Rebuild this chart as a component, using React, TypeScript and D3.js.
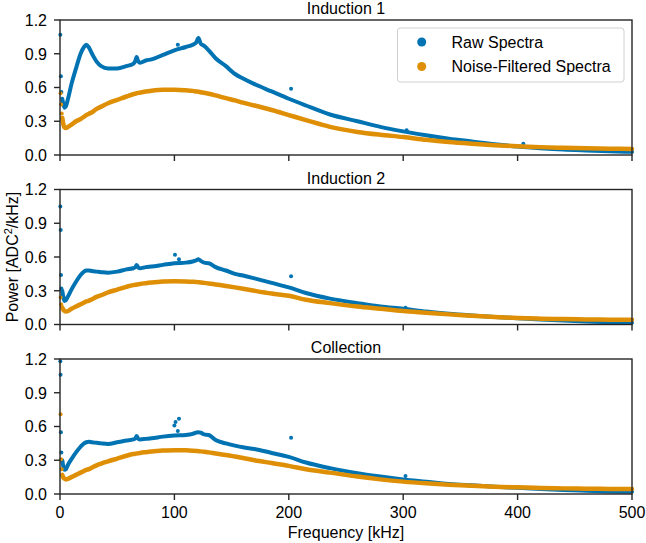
import React from "react";
import * as d3 from "d3";

const freqs = [2, 3, 4, 5, 7, 10, 14, 18, 21, 23, 25, 28, 32, 36, 42, 50, 58, 64, 66, 67, 68.5, 70, 75, 80, 90, 100, 110, 116, 119, 121, 123, 126, 130, 136, 145, 153, 160, 170, 185, 200, 215, 236, 260, 280, 300, 320, 340, 360, 380, 400, 420, 440, 460, 480, 500];

const raw1 = [0.50, 0.45, 0.42, 0.43, 0.50, 0.63, 0.77, 0.90, 0.96, 0.98, 0.96, 0.90, 0.83, 0.79, 0.77, 0.77, 0.79, 0.81, 0.84, 0.87, 0.83, 0.82, 0.84, 0.85, 0.89, 0.93, 0.96, 0.98, 1.00, 1.04, 0.99, 0.97, 0.93, 0.86, 0.79, 0.72, 0.68, 0.63, 0.565, 0.50, 0.44, 0.36, 0.30, 0.25, 0.21, 0.175, 0.145, 0.12, 0.095, 0.075, 0.06, 0.048, 0.04, 0.033, 0.028];
const filt1 = [0.33, 0.27, 0.245, 0.24, 0.25, 0.27, 0.30, 0.32, 0.34, 0.355, 0.365, 0.38, 0.41, 0.43, 0.46, 0.49, 0.52, 0.54, 0.545, 0.55, 0.552, 0.555, 0.565, 0.572, 0.58, 0.58, 0.575, 0.57, 0.565, 0.562, 0.558, 0.553, 0.545, 0.53, 0.505, 0.485, 0.465, 0.44, 0.40, 0.355, 0.31, 0.25, 0.205, 0.18, 0.16, 0.135, 0.115, 0.10, 0.087, 0.077, 0.07, 0.064, 0.059, 0.056, 0.053];

const raw2 = [0.30, 0.24, 0.21, 0.215, 0.25, 0.31, 0.38, 0.44, 0.47, 0.48, 0.48, 0.475, 0.47, 0.465, 0.46, 0.47, 0.49, 0.50, 0.51, 0.53, 0.505, 0.50, 0.51, 0.515, 0.53, 0.545, 0.55, 0.56, 0.57, 0.58, 0.565, 0.55, 0.545, 0.51, 0.48, 0.45, 0.435, 0.41, 0.37, 0.33, 0.28, 0.23, 0.19, 0.16, 0.14, 0.115, 0.095, 0.08, 0.067, 0.056, 0.045, 0.035, 0.027, 0.02, 0.015];
const filt2 = [0.15, 0.13, 0.12, 0.115, 0.12, 0.14, 0.16, 0.18, 0.195, 0.205, 0.21, 0.225, 0.245, 0.26, 0.285, 0.31, 0.335, 0.35, 0.353, 0.355, 0.357, 0.36, 0.367, 0.373, 0.382, 0.385, 0.383, 0.38, 0.378, 0.376, 0.374, 0.37, 0.365, 0.356, 0.343, 0.33, 0.318, 0.30, 0.275, 0.255, 0.22, 0.19, 0.16, 0.14, 0.12, 0.105, 0.09, 0.078, 0.067, 0.058, 0.052, 0.048, 0.045, 0.043, 0.042];

const raw3 = [0.30, 0.24, 0.215, 0.22, 0.26, 0.31, 0.37, 0.42, 0.45, 0.46, 0.465, 0.46, 0.455, 0.45, 0.445, 0.46, 0.475, 0.485, 0.495, 0.515, 0.49, 0.485, 0.49, 0.495, 0.51, 0.52, 0.525, 0.535, 0.545, 0.55, 0.545, 0.53, 0.525, 0.48, 0.45, 0.43, 0.415, 0.40, 0.365, 0.33, 0.28, 0.23, 0.185, 0.155, 0.13, 0.11, 0.09, 0.077, 0.065, 0.055, 0.045, 0.036, 0.029, 0.023, 0.02];
const filt3 = [0.17, 0.145, 0.135, 0.13, 0.135, 0.15, 0.17, 0.19, 0.205, 0.215, 0.22, 0.235, 0.255, 0.27, 0.29, 0.315, 0.34, 0.355, 0.358, 0.36, 0.362, 0.365, 0.372, 0.378, 0.386, 0.39, 0.388, 0.385, 0.383, 0.381, 0.379, 0.375, 0.37, 0.36, 0.347, 0.333, 0.32, 0.30, 0.275, 0.25, 0.22, 0.19, 0.155, 0.13, 0.11, 0.095, 0.083, 0.073, 0.065, 0.059, 0.054, 0.05, 0.047, 0.045, 0.044];

const rawOut1F = [0.3, 0.8, 1.2, 103, 202, 303, 405];
const rawOut1V = [1.07, 0.70, 0.56, 0.98, 0.59, 0.22, 0.10];
const filtOut1F = [0.5, 1.0, 1.5];
const filtOut1V = [0.55, 0.45, 0.37];

const rawOut2F = [0.3, 0.6, 0.9, 1.2, 100.5, 104, 202, 302];
const rawOut2V = [1.05, 0.84, 0.44, 0.32, 0.62, 0.58, 0.43, 0.15];
const filtOut2F = [0.5, 1.0];
const filtOut2V = [0.24, 0.18];

const rawOut3F = [0.3, 0.5, 0.8, 1.2, 100, 101, 104, 103, 202, 302];
const rawOut3V = [1.18, 1.06, 0.55, 0.37, 0.61, 0.64, 0.67, 0.56, 0.50, 0.16];
const filtOut3F = [0.5, 1.0, 1.5];
const filtOut3V = [0.71, 0.31, 0.22];

const titles = ["Induction 1", "Induction 2", "Collection"];
const xTicks = [0, 100, 200, 300, 400, 500];
const yTicks = [0, 0.3, 0.6, 0.9, 1.2];
const seriesNames = ["Raw Spectra", "Noise-Filtered Spectra"];

const BLUE = "#0173B2";
const ORANGE = "#DE8F05";
const FONT = "'Liberation Sans', Arial, Helvetica, sans-serif";

const panels = [
  { title: titles[0], raw: raw1, filt: filt1, ro: [rawOut1F, rawOut1V], fo: [filtOut1F, filtOut1V] },
  { title: titles[1], raw: raw2, filt: filt2, ro: [rawOut2F, rawOut2V], fo: [filtOut2F, filtOut2V] },
  { title: titles[2], raw: raw3, filt: filt3, ro: [rawOut3F, rawOut3V], fo: [filtOut3F, filtOut3V] },
];

const W = 646, H = 543;
const left = 60, right = 632;
const tops = [20, 189.5, 359];
const ph = 135;

export default function App() {
  const x = d3.scaleLinear().domain([0, 500]).range([left, right]);
  return (
    <svg width={W} height={H} style={{ position: "absolute", left: 0, top: 0, background: "#fff" }} fontFamily={FONT}>
      {panels.map((p, i) => {
        const top = tops[i];
        const y = d3.scaleLinear().domain([0, 1.2]).range([top + ph, top]);
        const line = d3.line<number>().x((_, k) => x(freqs[k])).y((v) => y(v)).curve(d3.curveMonotoneX);
        return (
          <g key={i}>
            <text x={(left + right) / 2} y={top - 6} textAnchor="middle" fontSize={16} fill="#000">{p.title}</text>
            <path d={line(p.raw) || ""} fill="none" stroke={BLUE} strokeWidth={4} strokeLinejoin="round" strokeLinecap="round" />
            {p.ro[0].map((f, k) => (
              <circle key={"r" + k} cx={x(f)} cy={y(p.ro[1][k])} r={2} fill={BLUE} />
            ))}
            <path d={line(p.filt) || ""} fill="none" stroke={ORANGE} strokeWidth={4.5} strokeLinejoin="round" strokeLinecap="round" />
            {p.fo[0].map((f, k) => (
              <circle key={"f" + k} cx={x(f)} cy={y(p.fo[1][k])} r={2} fill={ORANGE} />
            ))}
            <rect x={left} y={top} width={right - left} height={ph} fill="none" stroke="#262626" strokeWidth={1.4} />
            {yTicks.map((t) => (
              <g key={t}>
                <line x1={left - 6} x2={left} y1={y(t)} y2={y(t)} stroke="#262626" strokeWidth={1.4} />
                <text x={left - 13} y={y(t)} dy="0.36em" textAnchor="end" fontSize={16} fill="#000">{t.toFixed(1)}</text>
              </g>
            ))}
            {xTicks.map((t) => (
              <g key={t}>
                <line x1={x(t)} x2={x(t)} y1={top + ph} y2={top + ph + 6} stroke="#262626" strokeWidth={1.4} />
                {i === 2 && (
                  <text x={x(t)} y={top + ph + 24} textAnchor="middle" fontSize={16} fill="#000">{t}</text>
                )}
              </g>
            ))}
          </g>
        );
      })}
      <text x={(left + right) / 2} y={538} textAnchor="middle" fontSize={16} fill="#000">Frequency [kHz]</text>
      <text transform={`translate(18, 257) rotate(-90)`} textAnchor="middle" fontSize={16} fill="#000">
        Power [ADC<tspan dy={-6} fontSize={11}>2</tspan><tspan dy={6}>/kHz]</tspan>
      </text>
      <g>
        <rect x={397.5} y={28} width={226.5} height={54} rx={3} fill="#fff" fillOpacity={0.8} stroke="#d0d0d0" strokeWidth={1} />
        <circle cx={421.7} cy={42} r={4.5} fill={BLUE} />
        <text x={451.5} y={47.5} fontSize={16} fill="#000">{seriesNames[0]}</text>
        <circle cx={421.7} cy={66.5} r={4.5} fill={ORANGE} />
        <text x={451.5} y={72} fontSize={16} fill="#000">{seriesNames[1]}</text>
      </g>
    </svg>
  );
}
